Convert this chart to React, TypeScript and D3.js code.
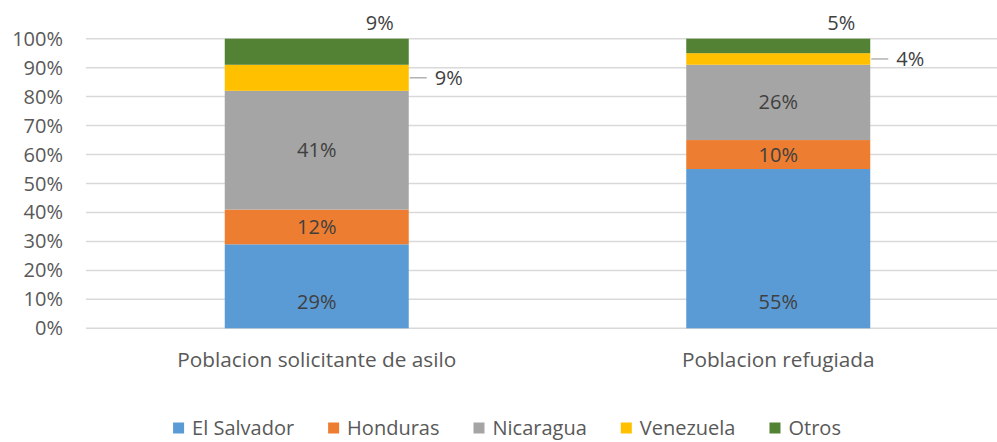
import React from "react";
import * as d3 from "d3";

const categories = ["Poblacion solicitante de asilo", "Poblacion refugiada"];
const seriesNames = ["El Salvador", "Honduras", "Nicaragua", "Venezuela", "Otros"];
const elSalvador = [0.29, 0.55];
const honduras = [0.12, 0.1];
const nicaragua = [0.41, 0.26];
const venezuela = [0.09, 0.04];
const otros = [0.09, 0.05];
const yTicks = [0, 0.1, 0.2, 0.3, 0.4, 0.5, 0.6, 0.7, 0.8, 0.9, 1];
const colors = ["#5B9BD5", "#ED7D31", "#A5A5A5", "#FFC000", "#548235"];

const W = 997;
const H = 442;
const FONT = "'Open Sans', sans-serif";

function measure(text: string, size: number): number {
  const c = document.createElement("canvas").getContext("2d");
  if (!c) return text.length * size * 0.5;
  c.font = `${size}px 'Open Sans'`;
  return c.measureText(text).width;
}

export default function App() {
  const seriesValues = [elSalvador, honduras, nicaragua, venezuela, otros];
  const rows = categories.map((c, j) => {
    const r: any = { cat: c };
    seriesNames.forEach((s, i) => (r[s] = seriesValues[i][j]));
    return r;
  });
  const stacked = d3.stack<any>().keys(seriesNames)(rows);

  const x = d3.scaleBand<string>().domain(categories).range([86, 1009]).paddingInner(0.6013).paddingOuter(0.30065);
  const y = d3.scaleLinear().domain([0, 1]).range([328.3, 38.7]);
  const pct = d3.format(".0%");

  // legend layout
  const legendSize = 20;
  const sq = 11;
  const gapSqText = 8;
  const itemGap = 34;
  const widths = seriesNames.map((s) => measure(s, legendSize));
  const totalW = widths.reduce((a, w) => a + sq + gapSqText + w, 0) + itemGap * (seriesNames.length - 1);
  let lx = 507 - totalW / 2;
  const legendItems = seriesNames.map((s, i) => {
    const item = { name: s, x: lx, color: colors[i] };
    lx += sq + gapSqText + widths[i] + itemGap;
    return item;
  });
  const legendY = 428;

  return (
    <svg width={W} height={H} style={{ position: "absolute", left: 0, top: 0, background: "#fff" }} fontFamily={FONT}>
      <rect x={0} y={0} width={W} height={H} fill="#fff" />
      {yTicks.map((t) => (
        <g key={t}>
          <line x1={86} x2={W} y1={y(t)} y2={y(t)} stroke="#D9D9D9" strokeWidth={1.5} />
          <text x={63} y={y(t)} dy="0.35em" textAnchor="end" fontSize={20} fill="#595959">
            {pct(t)}
          </text>
        </g>
      ))}
      {stacked.map((s, i) =>
        s.map((d, j) => {
          const cat = categories[j];
          const bx = x(cat)!;
          const bw = x.bandwidth();
          return (
            <rect key={`${i}-${j}`} x={bx} y={y(d[1])} width={bw} height={y(d[0]) - y(d[1])} fill={colors[i]} />
          );
        })
      )}
      {stacked.map((s, i) =>
        s.map((d, j) => {
          const cat = categories[j];
          const bx = x(cat)!;
          const bw = x.bandwidth();
          const v = d[1] - d[0];
          const label = pct(v);
          if (i === 0) {
            return (
              <text key={`l${i}-${j}`} x={bx + bw / 2} y={y(d[0]) - 26} dy="0.35em" textAnchor="middle" fontSize={20} fill="#404040">
                {label}
              </text>
            );
          }
          if (i === 3) {
            const cy = y((d[0] + d[1]) / 2);
            return (
              <g key={`l${i}-${j}`}>
                <line x1={bx + bw + 1} x2={bx + bw + 18} y1={cy} y2={cy} stroke="#A6A6A6" strokeWidth={1.3} />
                <text x={bx + bw + 26} y={cy} dy="0.35em" textAnchor="start" fontSize={20} fill="#404040">
                  {label}
                </text>
              </g>
            );
          }
          if (i === 4) {
            return (
              <text key={`l${i}-${j}`} x={bx + bw / 2 + 63} y={y(d[1]) - 16} dy="0.35em" textAnchor="middle" fontSize={20} fill="#404040">
                {label}
              </text>
            );
          }
          return (
            <text key={`l${i}-${j}`} x={bx + bw / 2} y={y((d[0] + d[1]) / 2)} dy="0.35em" textAnchor="middle" fontSize={20} fill="#404040">
              {label}
            </text>
          );
        })
      )}
      {categories.map((c) => (
        <text key={c} x={x(c)! + x.bandwidth() / 2} y={360} dy="0.35em" textAnchor="middle" fontSize={20.8} fill="#595959">
          {c}
        </text>
      ))}
      {legendItems.map((it) => (
        <g key={it.name}>
          <rect x={it.x} y={legendY - 5.5} width={sq} height={sq} fill={it.color} />
          <text x={it.x + sq + gapSqText} y={legendY} dy="0.35em" fontSize={legendSize} fill="#595959">
            {it.name}
          </text>
        </g>
      ))}
    </svg>
  );
}
